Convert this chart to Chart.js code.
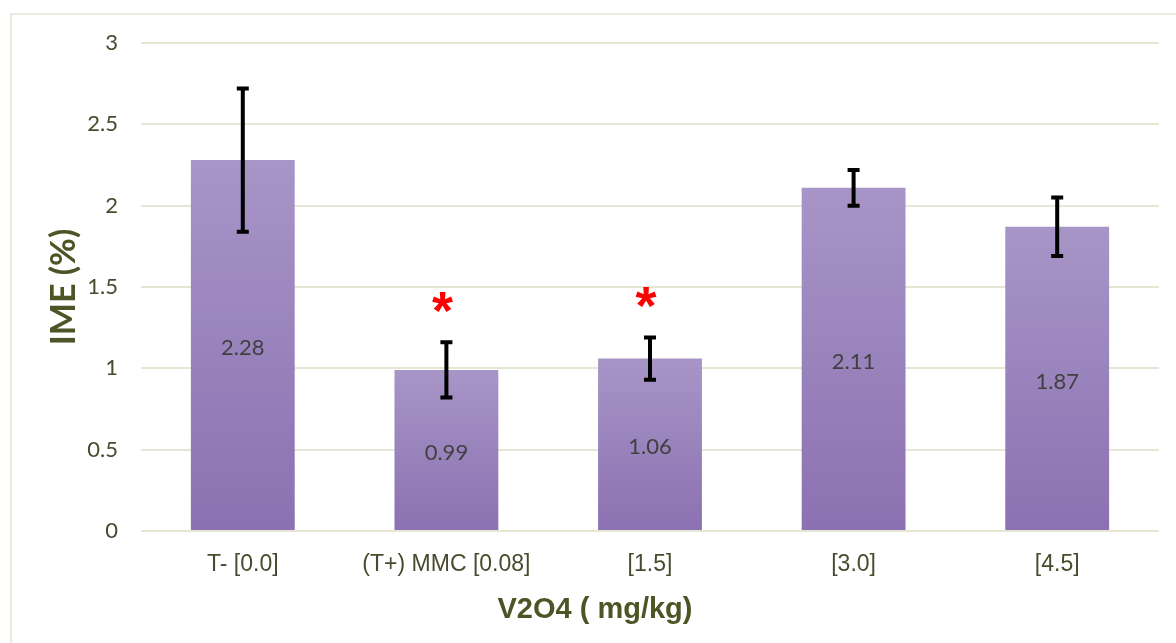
<!DOCTYPE html>
<html>
<head>
<meta charset="utf-8">
<title>IME (%) - V2O4</title>
<script src="https://cdn.jsdelivr.net/npm/chart.js@4"></script>
<style>
  html, body { margin: 0; padding: 0; background: #fff; }
  #wrap { width: 1176px; height: 643px; position: relative; }
</style>
</head>
<body>
<div id="wrap"><canvas id="imeChart"></canvas></div>
<script>
// Chart data
const categories = ['T- [0.0]', '(T+) MMC [0.08]', '[1.5]', '[3.0]', '[4.5]'];
const imeValues = [2.28, 0.99, 1.06, 2.11, 1.87];
const imeErrors = [0.44, 0.17, 0.13, 0.11, 0.18];
// height (in y units) of the red significance mark, null = none
const sigMarks = [null, 1.41, 1.44, null, null];
const yTicks = [0, 0.5, 1, 1.5, 2, 2.5, 3];
const xTitle = 'V2O4 ( mg/kg)';
const yTitle = 'IME (%)';

const gridColor = '#e6e6d4';
const tickColor = '#4a4a2e';
const titleColor = '#4c5526';

// per-bar vertical gradient, lighter at the top
function barGradient(context) {
  const chart = context.chart;
  if (!chart.chartArea) return '#9a84bd';
  const y = chart.scales.y;
  const top = y.getPixelForValue(context.raw);
  const base = y.getPixelForValue(0);
  const g = chart.ctx.createLinearGradient(0, top, 0, base);
  g.addColorStop(0, '#a895c7');
  g.addColorStop(1, '#8b71b1');
  return g;
}

// outer frame, value labels, error bars, asterisks, x title
const extras = {
  id: 'extras',
  beforeDraw(chart) {
    const ctx = chart.ctx;
    ctx.save();
    ctx.strokeStyle = '#ebebdd';
    ctx.lineWidth = 2;
    ctx.strokeRect(11, 14, 1400, 900);
    ctx.restore();
  },
  afterDatasetsDraw(chart) {
    const ctx = chart.ctx;
    const y = chart.scales.y;
    const meta = chart.getDatasetMeta(0);
    ctx.save();
    meta.data.forEach((bar, i) => {
      // value label in middle of bar
      ctx.fillStyle = '#404040';
      ctx.font = '22px Lato';
      ctx.textAlign = 'center';
      ctx.textBaseline = 'middle';
      ctx.fillText(imeValues[i].toFixed(2), bar.x, (bar.y + bar.base) / 2 + 3);

      // error bar
      const hi = y.getPixelForValue(imeValues[i] + imeErrors[i]);
      const lo = y.getPixelForValue(imeValues[i] - imeErrors[i]);
      ctx.strokeStyle = '#000';
      ctx.lineWidth = 4;
      ctx.lineCap = 'butt';
      ctx.beginPath();
      ctx.moveTo(bar.x, hi);
      ctx.lineTo(bar.x, lo);
      ctx.moveTo(bar.x - 6, hi);
      ctx.lineTo(bar.x + 6, hi);
      ctx.moveTo(bar.x - 6, lo);
      ctx.lineTo(bar.x + 6, lo);
      ctx.stroke();

      // significance asterisk
      if (sigMarks[i] !== null) {
        ctx.fillStyle = '#ff0000';
        ctx.font = 'bold 54px "Liberation Sans"';
        ctx.textBaseline = 'middle';
        ctx.fillText('*', bar.x - 4, y.getPixelForValue(sigMarks[i]) + 12);
      }
    });

    // x axis title (sits left of centre in the original)
    const area = chart.chartArea;
    ctx.fillStyle = titleColor;
    ctx.font = 'bold 29px "Liberation Sans"';
    ctx.textAlign = 'center';
    ctx.textBaseline = 'middle';
    ctx.fillText(xTitle, (area.left + area.right) / 2 - 55, 610);
    ctx.restore();
  }
};

new Chart(document.getElementById('imeChart'), {
  type: 'bar',
  data: {
    labels: categories,
    datasets: [{
      label: yTitle,
      data: imeValues,
      backgroundColor: barGradient,
      borderWidth: 0,
      categoryPercentage: 1,
      barPercentage: 0.51
    }]
  },
  options: {
    responsive: true,
    maintainAspectRatio: false,
    animation: false,
    layout: { padding: { left: 0, top: 43, right: 17, bottom: 0 } },
    plugins: {
      legend: { display: false },
      tooltip: { enabled: false }
    },
    scales: {
      x: {
        grid: { display: false },
        border: { display: false },
        ticks: {
          color: tickColor,
          font: { family: '"Liberation Sans"', size: 23 },
          padding: 12,
          maxRotation: 0
        },
        afterFit(scale) { scale.height = 112; }
      },
      y: {
        min: 0,
        max: 3,
        afterBuildTicks(scale) {
          scale.ticks = yTicks.map(v => ({ value: v }));
        },
        grid: { color: gridColor, lineWidth: 2, drawTicks: false },
        border: { display: false },
        ticks: {
          color: tickColor,
          font: { family: 'Lato', size: 22 },
          padding: 23,
          callback: value => String(value)
        },
        title: {
          display: true,
          text: yTitle,
          color: titleColor,
          font: { family: 'Lato', size: 34, weight: 'bold' },
          padding: { top: 44, bottom: 0 }
        },
        afterFit(scale) { scale.width = 141; }
      }
    }
  },
  plugins: [extras]
});
</script>
</body>
</html>
